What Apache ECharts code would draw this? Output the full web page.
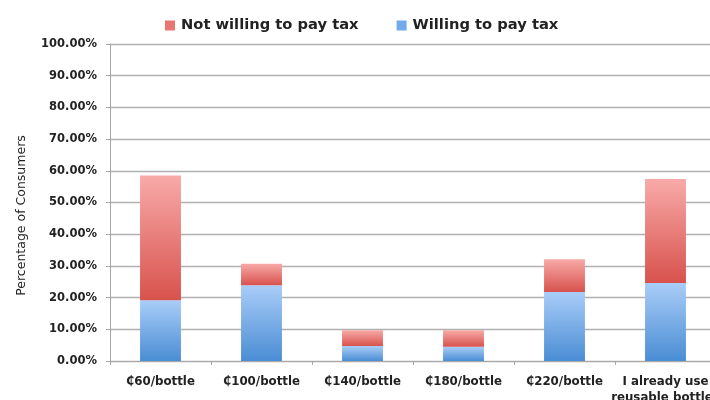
<!DOCTYPE html>
<html>
<head>
<meta charset="utf-8">
<script src="https://cdn.jsdelivr.net/npm/echarts@6/dist/echarts.min.js"></script>
<style>
  html, body { margin: 0; padding: 0; background: #fff; }
  #chart { width: 710px; height: 400px; }
</style>
</head>
<body>
<div id="chart"></div>
<script>
// Share of consumers per proposed bottle tax level
const categories = ['₵60/bottle', '₵100/bottle', '₵140/bottle', '₵180/bottle', '₵220/bottle', 'I already use\nreusable bottles'];
const willing = [19.2, 23.9, 4.7, 4.5, 21.8, 24.6];
const notWilling = [39.3, 6.8, 5.0, 5.2, 10.3, 32.8];
const yTicks = [0, 10, 20, 30, 40, 50, 60, 70, 80, 90, 100];

const FONT = 'DejaVu Sans';
const grad = (top, bottom) => new echarts.graphic.LinearGradient(0, 0, 0, 1, [
  { offset: 0, color: top },
  { offset: 1, color: bottom }
]);

const chart = echarts.init(document.getElementById('chart'), null, { renderer: 'canvas' });
chart.setOption({
  animation: false,
  backgroundColor: '#fff',
  legend: {
    left: 160,
    top: 13,
    itemWidth: 10,
    itemHeight: 10,
    itemGap: 38,
    icon: 'rect',
    textStyle: { fontFamily: FONT, fontWeight: 'bold', fontSize: 14.7, color: '#222', padding: [0, 0, 0, 1] },
    data: [
      { name: 'Not willing to pay tax', itemStyle: { color: '#ea7672' } },
      { name: 'Willing to pay tax', itemStyle: { color: '#72aaea' } }
    ]
  },
  grid: { left: 110, width: 606, top: 44, height: 317, containLabel: false, outerBoundsMode: 'none' },
  xAxis: {
    type: 'category',
    data: categories,
    axisLine: { show: true, lineStyle: { color: '#a8a8a8', width: 1 } },
    axisTick: { show: true, length: 4, alignWithLabel: false, lineStyle: { color: '#a8a8a8' } },
    axisLabel: {
      interval: 0,
      margin: 13,
      fontFamily: FONT,
      fontWeight: 'bold',
      fontSize: 11.8,
      color: '#222',
      lineHeight: 16
    }
  },
  yAxis: {
    type: 'value',
    min: 0,
    max: 100,
    interval: 10,
    name: 'Percentage of Consumers',
    nameLocation: 'middle',
    nameGap: 82,
    nameRotate: 90,
    nameTextStyle: { fontFamily: FONT, fontSize: 12.5, color: '#222', padding: [0, 26, 0, 0] },
    axisLine: { show: true, lineStyle: { color: '#a8a8a8', width: 1 } },
    axisTick: { show: true, length: 4, lineStyle: { color: '#a8a8a8' } },
    splitLine: { show: true, lineStyle: { color: '#b0b0b0', width: 1.3 } },
    axisLabel: {
      margin: 13,
      fontFamily: FONT,
      fontWeight: 'bold',
      fontSize: 11.5,
      color: '#222',
      formatter: v => yTicks.includes(v) ? v.toFixed(2) + '%' : ''
    }
  },
  series: [
    {
      name: 'Willing to pay tax',
      type: 'bar',
      stack: 'total',
      barWidth: '40.5%',
      data: willing,
      itemStyle: { color: grad('#a9cdf8', '#4a8dd4') }
    },
    {
      name: 'Not willing to pay tax',
      type: 'bar',
      stack: 'total',
      barWidth: '40.5%',
      data: notWilling,
      itemStyle: { color: grad('#f8aaa8', '#d8524d') }
    }
  ]
});
</script>
</body>
</html>
